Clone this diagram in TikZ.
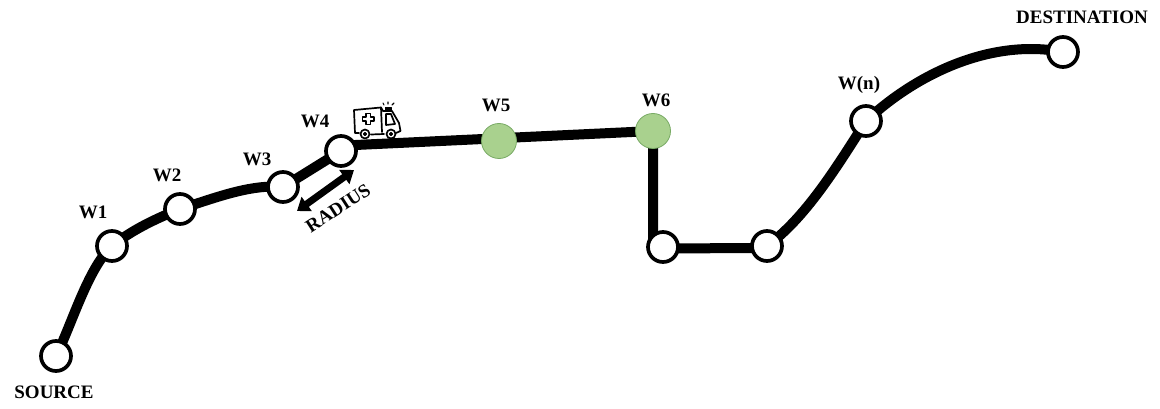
\documentclass[tikz,border=0pt]{standalone}
\usepackage{fontspec}
\setmainfont{Liberation Serif}
\usetikzlibrary{arrows.meta}
\definecolor{wpgreen}{RGB}{169,209,142}
\definecolor{wpedge}{RGB}{120,170,100}
\tikzset{
  x=1pt,y=-1pt,
  wp/.style={circle,draw=black,line width=3.7pt,fill=white,minimum size=30pt,inner sep=0pt},
  wpg/.style={circle,draw=wpedge,line width=0.8pt,fill=wpgreen,minimum size=35pt,inner sep=0pt},
  lab/.style={font=\fontsize{19}{19}\selectfont\bfseries,inner sep=0pt,text=black},
  road/.style={line width=10pt,draw=black},
  amb/.style={line width=1.7pt,draw=black,line join=round,line cap=round},
}
\begin{document}
\begin{tikzpicture}
\useasboundingbox (0,0) rectangle (1160,409);
\fill[white] (0,0) rectangle (1160,409);
\coordinate (nSc) at (56,356);
\coordinate (n1c) at (112,246);
\coordinate (n2c) at (180,209);
\coordinate (n3c) at (283,187);
\coordinate (n4c) at (341,151);
\coordinate (n5c) at (499,141);
\coordinate (n6c) at (653,131);
\coordinate (nAc) at (663,247);
\coordinate (nBc) at (767,246);
\coordinate (nNc) at (866,121);
\coordinate (nDc) at (1063,52);
\coordinate (r4) at (345,145.5);
\coordinate (rc) at (653,248.5);
\coordinate (rd) at (767,248);
% roads
\draw[road] (nSc) .. controls (72,324) and (88,268) .. (n1c);
\draw[road] (n1c) .. controls (132,230) and (155,219) .. (n2c);
\draw[road] (n2c) .. controls (215,198) and (250,184) .. (n3c);
\draw[road] (n3c) -- (n4c);
\draw[road] (r4) -- (n6c);
\draw[road] (n6c) -- (rc) -- (nAc);
\draw[road] (rc) -- (rd);
\draw[road] (nBc) .. controls (805,218) and (835,170) .. (nNc);
\draw[road] (nNc) .. controls (915,75) and (990,38) .. (nDc);
% nodes
\node[wp] (nS) at (nSc) {};
\node[wp] (n1) at (n1c) {};
\node[wp] (n2) at (n2c) {};
\node[wp] (n3) at (n3c) {};
\node[wp] (n4) at (n4c) {};
\node[wpg] (n5) at (n5c) {};
\node[wpg] (n6) at (n6c) {};
\node[wp] (nA) at (nAc) {};
\node[wp] (nB) at (nBc) {};
\node[wp] (nN) at (nNc) {};
\node[wp] (nD) at (nDc) {};
% labels
\node[lab] at (54,392) {SOURCE};
\node[lab] at (93,212) {W1};
\node[lab] at (167,175) {W2};
\node[lab] at (257,159) {W3};
\node[lab] at (315,121) {W4};
\node[lab] at (496,105) {W5};
\node[lab] at (656,100) {W6};
\node[lab] at (859,85) {W(n)};
\node[lab] at (1082,17) {DESTINATION};
\node[lab,rotate=33] at (338,208) {RADIUS};
% radius arrow
\coordinate (ra) at (297,211);
\coordinate (rb) at (354,170);
\draw[line width=7pt,{Triangle[width=17pt,length=12pt]}-{Triangle[width=17pt,length=12pt]}] (ra) -- (rb);
% ambulance
\draw[amb,fill=white] (359,133) -- (355,133) -- (354,110) -- (381,107.5) -- (383,111) -- (392,111) -- (399,123) -- (400.5,131) -- (396,133) (384,134) -- (371,134.5);
\draw[amb] (381,107.5) -- (382,132);
\draw[amb] (386,114) -- (391,114) -- (395,124) -- (386,125) -- cycle;
\draw[amb,line width=1.4pt] (366,113.5) -- (370.5,113.5) -- (370.5,117) -- (374,117) -- (374,121) -- (370.5,121) -- (370.5,124.5) -- (366,124.5) -- (366,121) -- (362.5,121) -- (362.5,117) -- (366,117) -- cycle;
\draw[amb,fill=white] (365,134) circle (4.5pt);
\draw[amb,fill=black] (365,134) circle (1.2pt);
\draw[amb,fill=white] (391,134) circle (4.5pt);
\draw[amb,fill=black] (391,134) circle (1.2pt);
\draw[amb,fill=black,line width=1pt] (385,108) rectangle (391,111);
\draw[amb,line width=1.1pt] (384,105) -- (383,103) (388,104) -- (388,102) (392,105) -- (394,103);
\end{tikzpicture}
\end{document}
